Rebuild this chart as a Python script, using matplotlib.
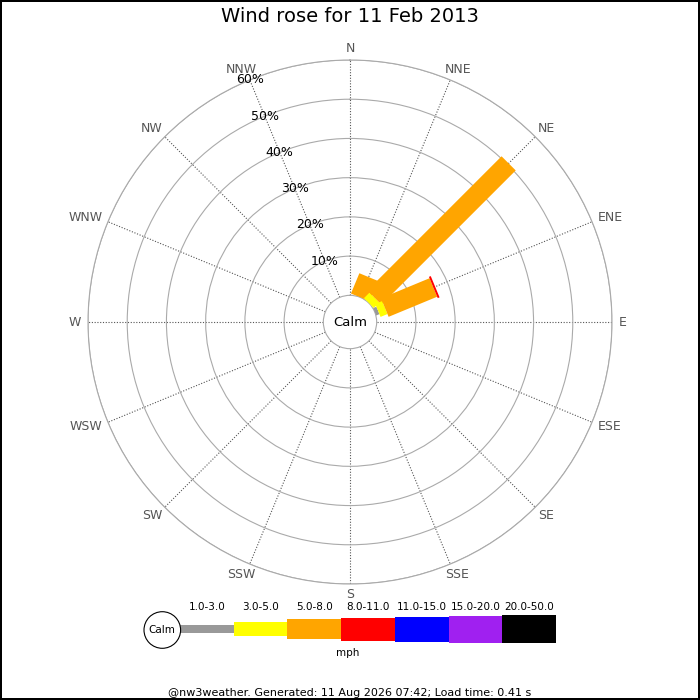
import numpy as np
import matplotlib
matplotlib.use("Agg")
import matplotlib.pyplot as plt
from matplotlib.patches import Circle

# data (percent of the day per direction and speed band)
directions = ["N", "NNE", "NE", "ENE", "E", "ESE", "SE", "SSE",
              "S", "SSW", "SW", "WSW", "W", "WNW", "NW", "NNW"]
bands = ["1.0-3.0", "3.0-5.0", "5.0-8.0", "8.0-11.0", "11.0-15.0", "15.0-20.0", "20.0-50.0"]
speed_1_3 = [0, 0, 0, 0.9, 0, 0, 0, 0, 0, 0, 0, 0, 0, 0, 0, 0]
speed_3_5 = [0, 0, 2.0, 1.9, 0, 0, 0, 0, 0, 0, 0, 0, 0, 0, 0, 0]
speed_5_8 = [0, 5.6, 48.4, 13.4, 0, 0, 0, 0, 0, 0, 0, 0, 0, 0, 0, 0]
speed_8_11 = [0, 0, 0, 0.5, 0, 0, 0, 0, 0, 0, 0, 0, 0, 0, 0, 0]
speed_11_15 = [0] * 16
speed_15_20 = [0] * 16
speed_20_50 = [0] * 16
ring_pcts = [10, 20, 30, 40, 50, 60]
title = "Wind rose for 11 Feb 2013"
unit = "mph"
footer = "@nw3weather. Generated: 11 Aug 2026 07:42; Load time: 0.41 s"

band_values = [speed_1_3, speed_3_5, speed_5_8, speed_8_11, speed_11_15, speed_15_20, speed_20_50]
band_colors = ["#999999", "#ffff00", "#ffa500", "#ff0000", "#0000ff", "#a020f0", "#000000"]
band_px = [8, 14, 20, 23, 25, 27, 28]   # leg thickness in pixels

W = 700
cx, cy, R = 350, 322, 262      # rose centre and outer radius (px)
RMAX, RORIG = 60, -6.8         # 0% sits on the calm circle

def px_to_r(p):
    return p / R * (RMAX - RORIG) + RORIG

fig = plt.figure(figsize=(7, 7), dpi=100)
fig.patch.set_edgecolor("black")
fig.patch.set_linewidth(1.5)

ax = fig.add_axes([(cx - R) / W, (W - cy - R) / W, 2 * R / W, 2 * R / W], projection="polar")
ax.set_theta_zero_location("N")
ax.set_theta_direction(-1)

theta = np.radians(np.arange(len(directions)) * 22.5)

# legs, stacked outwards band by band
for d in range(len(directions)):
    base = 0
    for b in range(len(bands)):
        v = band_values[b][d]
        if v > 0:
            ax.plot([theta[d], theta[d]], [base, base + v], color=band_colors[b],
                    lw=band_px[b] * 0.72, solid_capstyle="butt", zorder=3)
        base += v

ax.set_ylim(0, RMAX)
ax.set_rorigin(RORIG)
ax.set_xticks(theta)
ax.set_xticklabels([])
ax.set_yticks(ring_pcts)
ax.set_yticklabels([])
ax.tick_params(length=0)
ax.xaxis.grid(True, color="#555555", linestyle=(0, (1, 1.5)), linewidth=0.8)
ax.yaxis.grid(True, color="#aaaaaa", linestyle="-", linewidth=0.8)
for s in ax.spines.values():
    s.set_color("#aaaaaa")
    s.set_linewidth(0.8)

ax.text(0.5, 0.5, "Calm", transform=ax.transAxes, ha="center", va="center", fontsize=9.5)

for p in ring_pcts:
    ax.text(np.radians(337.5), p, f"{p}%", ha="center", va="center", fontsize=9)

# compass labels, pushed out by half their size
fig.canvas.draw()
r_lab = px_to_r(269)
for lab, t in zip(directions, theta):
    a = ax.annotate(lab, xy=(t, r_lab), xytext=(0, 0), textcoords="offset pixels",
                    ha="center", va="center", fontsize=9, color="#555555",
                    annotation_clip=False)
    bb = a.get_window_extent(fig.canvas.get_renderer())
    a.xyann = (bb.width / 2 * np.sin(t), 4 * np.cos(t))

# overlay in pixel coordinates for title and legend
lg = fig.add_axes([0, 0, 1, 1])
lg.set_xlim(0, W)
lg.set_ylim(W, 0)
lg.axis("off")

lg.text(350, 17, title, ha="center", va="center", fontsize=14)

step = 53.7
lefts = 180 + step * np.arange(len(bands))
thick = np.array(band_px, dtype=float)
lg.bar(lefts, thick, width=step, bottom=629.3 - thick / 2, align="edge", color=band_colors)
for x, lab in zip(lefts, bands):
    lg.text(x + step / 2, 607, lab, ha="center", va="center", fontsize=7.5)
lg.add_patch(Circle((162.3, 630), 18.3, fc="white", ec="black", lw=0.8))
lg.text(162.3, 630, "Calm", ha="center", va="center", fontsize=7.5)
lg.text(348, 653.5, unit, ha="center", va="center", fontsize=7.5)
lg.text(350, 692.5, footer, ha="center", va="center", fontsize=8)

fig.savefig("out.png", dpi=100)
